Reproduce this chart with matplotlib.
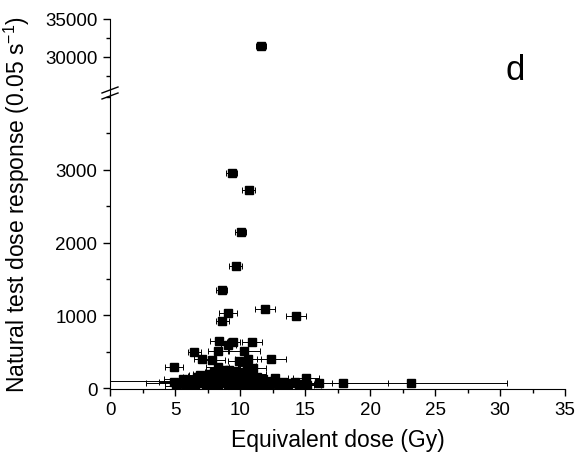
import matplotlib
matplotlib.use('Agg')
import matplotlib.pyplot as plt
from matplotlib.ticker import MultipleLocator
import numpy as np

plt.rcParams['font.family'] = ['Liberation Sans', 'DejaVu Sans']
plt.rcParams['mathtext.fontset'] = 'custom'
plt.rcParams['mathtext.rm'] = 'Liberation Sans'
plt.rcParams['mathtext.it'] = 'Liberation Sans'

# Equivalent dose (Gy), its error, and natural test dose response
dose = [9.36, 10.67, 10.05, 9.67, 8.59, 11.92, 9.08, 14.3, 8.64, 8.38,
        9.49, 10.92, 9.1, 6.49, 8.33, 10.31, 7.05, 7.85, 10.59, 12.41,
        9.9, 4.9, 8.28, 10.51, 11.03, 9.13, 6.9,
        4.95, 5.05, 5.64, 5.8, 6.0, 6.2, 6.5, 6.7, 6.92, 7.1,
        7.3, 7.4, 7.6, 7.7, 7.9, 8.0, 8.1, 8.2, 8.3, 8.5,
        8.6, 8.7, 8.8, 8.9, 9.0, 9.1, 9.2, 9.3, 9.4, 9.5,
        9.6, 9.7, 9.8, 9.9, 10.0, 10.1, 10.2, 10.3, 10.4, 10.5,
        10.6, 10.8, 10.9, 11.0, 11.2, 11.3, 11.5, 11.7, 11.8, 12.0,
        12.2, 12.5, 12.69, 12.9, 13.1, 13.3, 13.6, 13.9, 14.2, 14.5,
        14.8, 15.08, 15.13, 16.08, 17.95, 23.15, 6.2, 7.5,
        11.6]
dose_err = [0.4, 0.5, 0.4, 0.5, 0.4, 0.77, 0.7, 0.8, 0.5, 0.7,
            0.5, 0.8, 0.6, 0.5, 0.8, 1.2, 0.6, 1.0, 1.0, 1.1,
            0.8, 0.7, 0.9, 0.7, 1.0, 0.6, 0.8,
            1.2, 0.8, 1.5, 1.0, 0.7, 1.3, 0.9, 1.1, 0.9, 1.4,
            1.0, 0.8, 1.2, 0.9, 1.6, 0.7, 1.1, 0.8, 1.0, 0.9,
            1.2, 0.8, 0.7, 1.0, 1.3, 0.9, 0.8, 1.1, 0.7, 1.5,
            0.9, 1.0, 0.8, 1.2, 0.9, 1.1, 0.8, 1.0, 1.3, 0.9,
            1.0, 1.2, 0.9, 1.4, 1.0, 1.1, 0.9, 1.3, 1.0, 1.2,
            0.9, 1.1, 1.0, 1.3, 0.9, 1.2, 1.0, 1.1, 1.0, 1.2,
            0.9, 1.0, 1.1, 1.0, 3.4, 7.4, 6.5, 4.7,
            0.4]
response = [2957, 2728, 2151, 1684, 1346, 1085, 1030, 989, 924, 650,
            636, 636, 600, 498, 508, 508, 407, 389, 407, 398,
            371, 293, 288, 302, 275, 256, 183,
            82, 30, 128, 60, 20, 95, 40, 150, 173, 70,
            110, 25, 200, 140, 60, 230, 100, 170, 30, 210,
            140, 80, 250, 190, 120, 50, 220, 160, 90, 20,
            240, 180, 130, 70, 210, 150, 40, 230, 110, 175,
            60, 200, 130, 85, 30, 160, 100, 50, 128, 80,
            40, 100, 137, 60, 30, 82, 50, 70, 82, 40,
            60, 137, 45, 69, 69, 73, 95, 70,
            31400]

fig = plt.figure(figsize=(5.8, 4.6), dpi=100)
W, H = 580.0, 460.0
left, right = 110 / W, 565 / W
ax_top = fig.add_axes([left, 1 - 95 / H, right - left, 75 / H])
ax_bot = fig.add_axes([left, 1 - 390 / H, right - left, 295 / H])

for ax in (ax_top, ax_bot):
    ax.errorbar(dose, response, xerr=dose_err, fmt='s', color='black',
                ms=6, ecolor='black', elinewidth=0.7, capsize=2.5,
                capthick=0.7, zorder=3, clip_on=True)
    ax.spines['top'].set_visible(False)
    ax.spines['right'].set_visible(False)
    ax.set_xlim(0, 35)
    ax.tick_params(which='major', direction='out', length=5, width=1,
                   labelsize=13.5, pad=4)
    ax.tick_params(which='minor', direction='out', length=3, width=1)
    ax.yaxis.set_minor_locator(MultipleLocator(500))

ax_top.set_ylim(25100, 35000)
ax_top.yaxis.set_major_locator(MultipleLocator(5000))
ax_top.yaxis.set_minor_locator(MultipleLocator(2500))
ax_top.spines['bottom'].set_visible(False)
ax_top.tick_params(axis='x', which='both', bottom=False, labelbottom=False)

ax_bot.set_ylim(-10, 4040)
ax_bot.set_yticks([0, 1000, 2000, 3000])
ax_bot.xaxis.set_major_locator(MultipleLocator(5))
ax_bot.xaxis.set_minor_locator(MultipleLocator(2.5))
ax_bot.set_xlabel('Equivalent dose (Gy)', fontsize=16.5, labelpad=7)

# break marks on the y axis
for yb in (91, 97):
    yy = 1 - yb / H
    fig.add_artist(plt.Line2D([left - 8 / W, left + 8 / W],
                              [yy - 3 / H, yy + 3 / H],
                              color='black', lw=1))

fig.text(17 / W, 1 - 205 / H, 'Natural test dose response (0.05 s$^{-1}$)',
         rotation=90, ha='center', va='center', fontsize=16.5)
fig.text(515 / W, 1 - 70 / H, 'd', ha='center', va='center', fontsize=25)

fig.savefig('out.png', dpi=100)
